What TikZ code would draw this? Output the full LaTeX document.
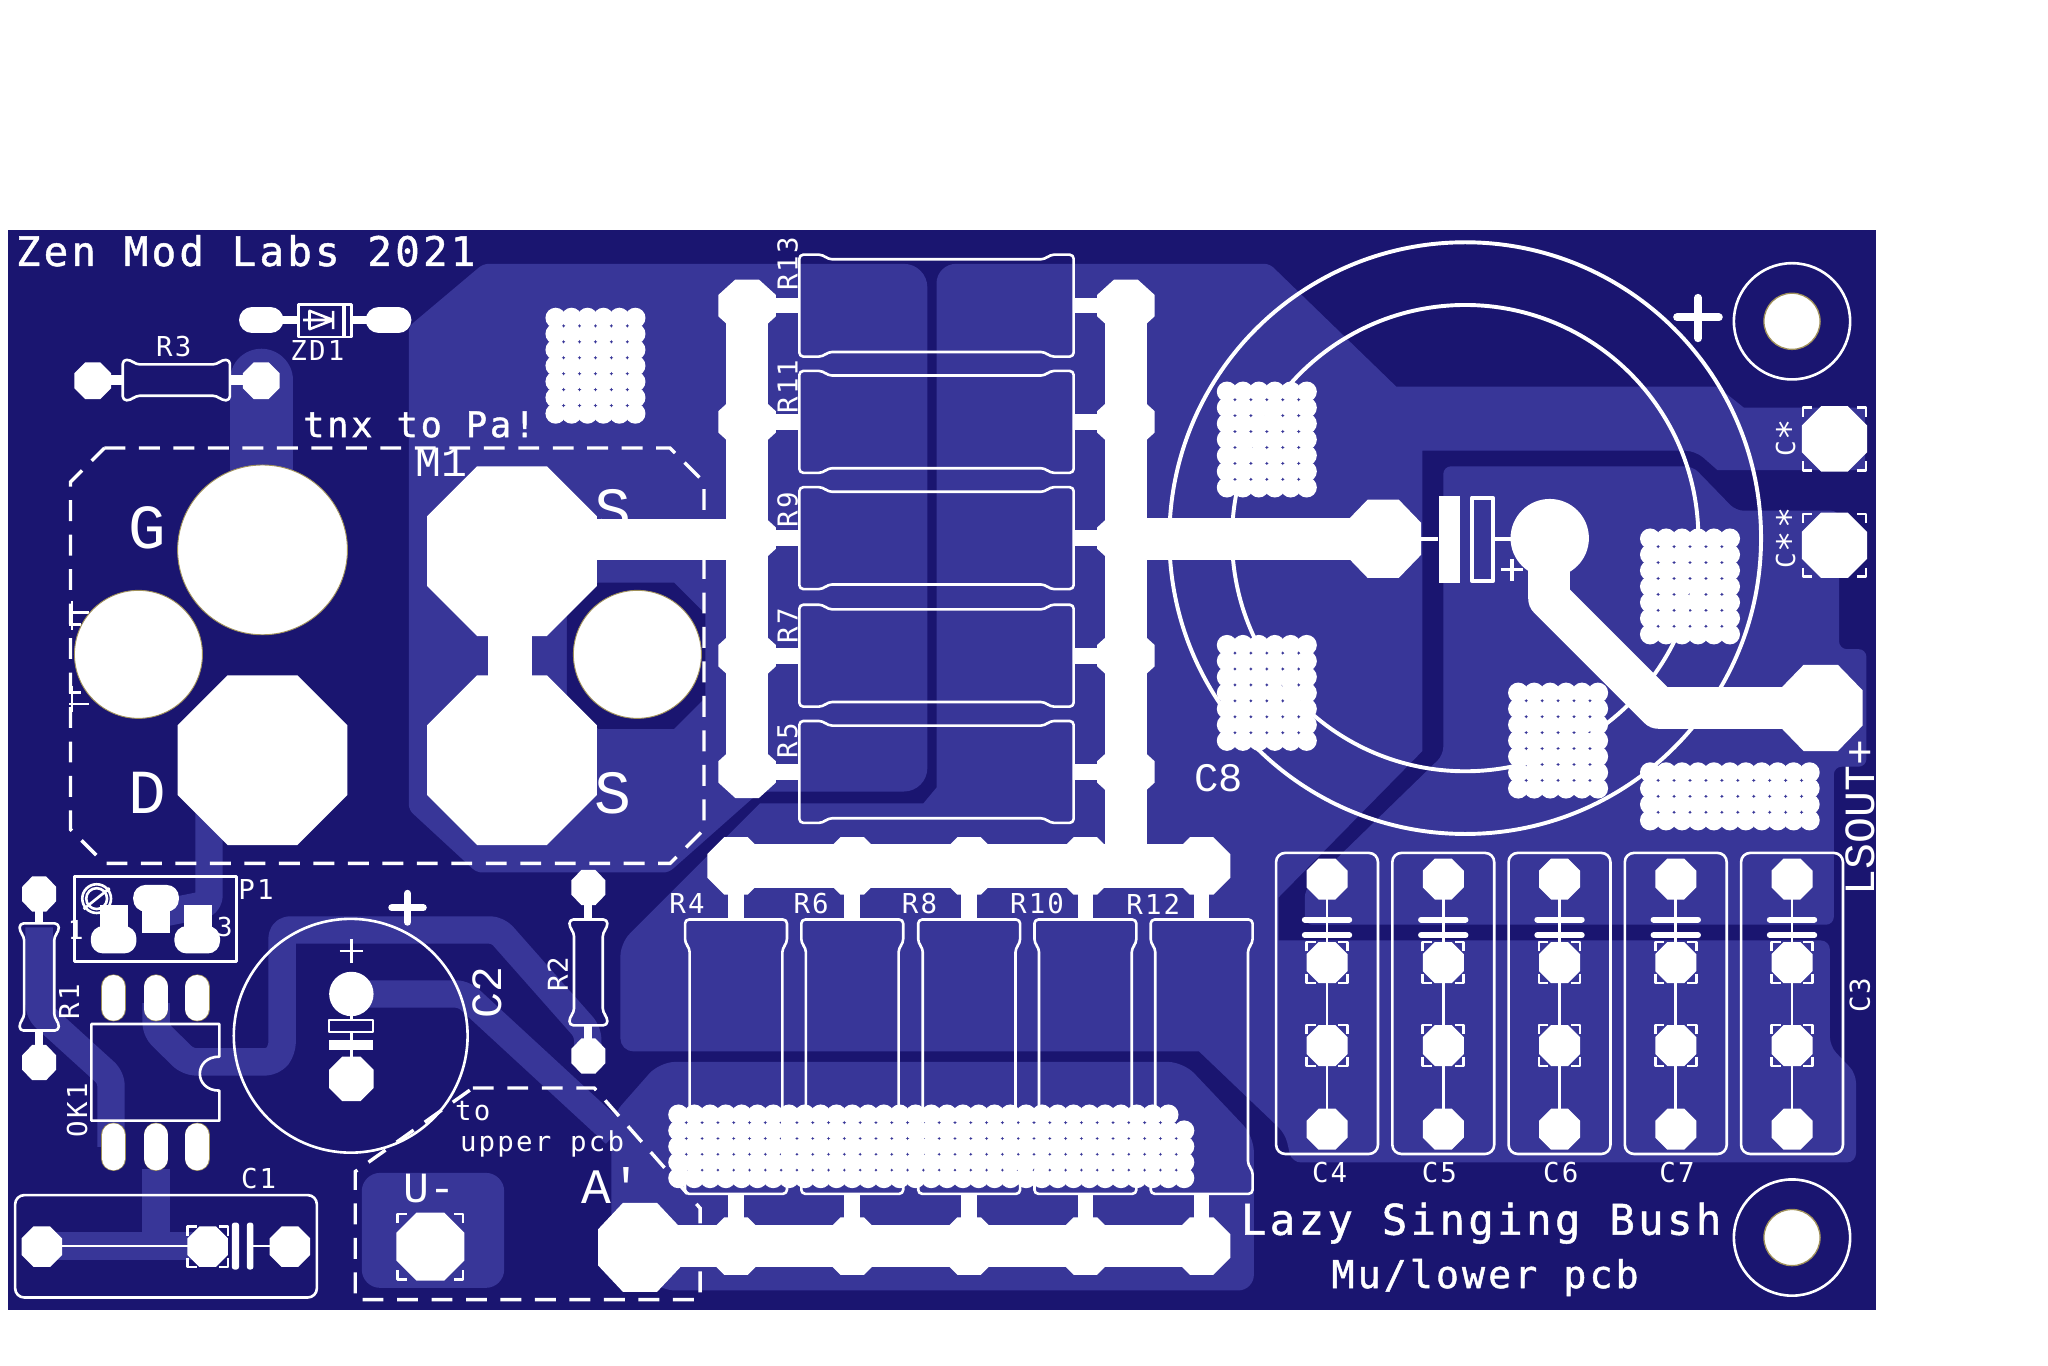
\documentclass[tikz,border=0pt]{standalone}
\usepackage{fontspec}
\newfontfamily\pcbfont[LetterSpace=8]{DejaVu Sans Mono}
\newfontfamily\pcbbold[LetterSpace=8,FakeBold=1.2]{DejaVu Sans Mono}
\newfontfamily\pcbthin{Liberation Mono}
\definecolor{board}{RGB}{26,21,112}
\definecolor{zone}{RGB}{56,54,152}
\definecolor{padrim}{RGB}{160,145,90}
\tikzset{>=stealth}
\tikzset{
  silk/.style={text=white, inner sep=0pt, font=\pcbfont\fontsize{#1}{#1}\selectfont},
  silk/.default=21,
  silkbold/.style={text=white, inner sep=0pt, font=\pcbbold\fontsize{#1}{#1}\selectfont},
  silkthin/.style={text=white, inner sep=0pt, font=\pcbthin\fontsize{#1}{#1}\selectfont},
  silkline/.style={draw=white, line width=2pt, line join=round},
  cut/.style={draw=white, line width=2.6pt, dash pattern=on 16pt off 10.4pt},
  track/.style={draw=zone, line width=21pt, line join=round, rounded corners=6pt},
  wide/.style={draw=white, line width=32pt, line join=round},
  stub/.style={draw=white, line width=12pt},
  lead/.style={draw=white, line width=6pt},
  patch/.style={fill=zone},
  padrimline/.style={draw=padrim, line width=0.7pt}
}
\newcommand{\meshstep}{12.2}
\newcommand{\octpad}[4]{\fill[white] ({#1-#3},{#2-0.41*#4}) -- ({#1-0.41*#3},{#2-#4}) -- ({#1+0.41*#3},{#2-#4}) -- ({#1+#3},{#2-0.41*#4}) -- ({#1+#3},{#2+0.41*#4}) -- ({#1+0.41*#3},{#2+#4}) -- ({#1-0.41*#3},{#2+#4}) -- ({#1-#3},{#2+0.41*#4}) -- cycle;}
\newcommand{\meshpad}[4]{\foreach \i in {1,...,#3} \foreach \j in {1,...,#4} \fill[white] ({#1+7.4+(\i-1)*\meshstep},{#2+7.4+(\j-1)*\meshstep}) circle (7.8pt);}
\newcommand{\ovalpin}[3]{\draw[padrim, line width=19pt, line cap=round] (#1,{#2+9}) -- (#1,{#3-9}); \draw[white, line width=18pt, line cap=round] (#1,{#2+9}) -- (#1,{#3-9});}
\newcommand{\padmark}[3]{
  \draw[silkline] ({#1-#3},{#2-#3+7}) -- ({#1-#3},{#2-#3}) -- ({#1-#3+7},{#2-#3});
  \draw[silkline] ({#1+#3},{#2-#3+7}) -- ({#1+#3},{#2-#3}) -- ({#1+#3-7},{#2-#3});
  \draw[silkline] ({#1-#3},{#2+#3-7}) -- ({#1-#3},{#2+#3}) -- ({#1-#3+7},{#2+#3});
  \draw[silkline] ({#1+#3},{#2+#3-7}) -- ({#1+#3},{#2+#3}) -- ({#1+#3-7},{#2+#3});}
\newcommand{\resv}[5]{\draw[silkline, rounded corners=3pt] ({#1-#4},#2) -- ({#1+#4},#2) -- ({#1+#4},{#2+#5}) -- ({#1+#4-3.5},{#2+#5+4}) -- ({#1+#4-3.5},{#3-#5-4}) -- ({#1+#4},{#3-#5}) -- ({#1+#4},#3) -- ({#1-#4},#3) -- ({#1-#4},{#3-#5}) -- ({#1-#4+3.5},{#3-#5-4}) -- ({#1-#4+3.5},{#2+#5+4}) -- ({#1-#4},{#2+#5}) -- cycle;}
\newcommand{\resh}[5]{\draw[silkline, rounded corners=3pt] (#2,{#1-#4}) -- ({#2+#5},{#1-#4}) -- ({#2+#5+4},{#1-#4+3.5}) -- ({#3-#5-4},{#1-#4+3.5}) -- ({#3-#5},{#1-#4}) -- (#3,{#1-#4}) -- (#3,{#1+#4}) -- ({#3-#5},{#1+#4}) -- ({#3-#5-4},{#1+#4-3.5}) -- ({#2+#5+4},{#1+#4-3.5}) -- ({#2+#5},{#1+#4}) -- (#2,{#1+#4}) -- cycle;}
\begin{document}
\begin{tikzpicture}[x=1pt, y=-1pt]
    \useasboundingbox (0,0) rectangle (1568,1045.8);
    \fill [white] (0,0) rectangle (1568,1045.8);
    \fill [board] (6,176) rectangle (1436,1003);

    \fill [patch] (500,202) [rounded corners=18pt] -- (710,202) -- (710,606) [rounded corners=4pt] -- (582,606) -- (512,668) -- (365,668) -- (313,620) -- (313,250) -- (370,202) -- cycle;
    \fill [patch] (800,202) [rounded corners=4pt] -- (972,202) [sharp corners] -- (1069,296) -- (1315,296) -- (1335,312) -- (1428,312) -- (1428,360) -- (1315,360) [rounded corners=8pt] -- (1298,345) [sharp corners] -- (1089,345) -- (1089,575) -- (979,687) -- (979,720) [rounded corners=7pt] -- (1401,720) -- (1401,801) -- (1421,822) -- (1421,890) -- (989,890) -- (984,868) [sharp corners] -- (918,805) [rounded corners=10pt] -- (475,805) -- (475,722) [sharp corners] -- (582,615) -- (707,615) -- (717,603) [rounded corners=15pt] -- (717,202) -- cycle;
    \fill [patch, rounded corners=6pt] (1105,357) -- (1296,357) -- (1329,391) -- (1408,391) -- (1408,497) -- (1429,497) -- (1429,587) -- (1404,587) -- (1404,708) -- (999,708) -- (999,681) -- (1105,578) -- cycle;
    \fill [patch, rounded corners=12pt] (505,813) -- (906,813) -- (960,870) -- (960,988) -- (505,988) -- (468,950) -- (468,855) -- cycle;
    \fill [patch, rounded corners=14pt] (277,898) rectangle (386,986);
    \fill [board] (434,470) -- (458,446) -- (516,446) -- (540,470) -- (540,534) -- (516,558) -- (458,558) -- (434,534) -- cycle;

    \draw [track, line width=48pt, line cap=round] (200,291) -- (200,420);
    \draw [track] (160,600) -- (160,692) -- (120,700);
    \draw [track] (30,710) -- (30,775) -- (85,825) -- (85,878);
    \draw [track] (119.5,768) -- (119.5,789) -- (144,813) -- (209,813) -- (216,804) -- (216,712) -- (381,712) -- (450,790) -- (450,808);
    \draw [track] (269,761) -- (355,761) -- (471,868);
    \draw [track] (119.5,895) -- (119.5,954);
    \draw [track] (32,954) -- (159,954);

    \node [silkbold=31.2, anchor=west] (title) at (12,192) {Zen Mod Labs 2021};
    \node [silkbold=27] (thanks) at (321,325) {tnx to Pa!};
    \node [silkthin=33] (labM) at (338,354) {M1};
    \node [silkthin=48] (labG) at (113,404) {G};
    \node [silkthin=48] (labD) at (113,607) {D};
    \node [silkthin=47] (labSa) at (469,391) {S};
    \node [silkthin=47] (labSb) at (469,607) {S};
    \node [silk] (labRiii) at (133,265) {R3};
    \node [silk] (labZD) at (243,268) {ZD1};
    \node [silk] (labP) at (196,681) {P1};
    \node [silk, rotate=90] (labRi) at (53,767) {R1};
    \node [silk, rotate=90] (labOK) at (59,850) {OK1};
    \node [silkthin=33, rotate=90] (labCii) at (373,760) {C2};
    \node [silk, rotate=90] (labRii) at (427,746) {R2};
    \node [silk] (labCi) at (198,902) {C1};
    \node [silk=21] (labTo) at (362,851) {to};
    \node [silk=21] (labUp) at (415,876) {upper pcb};
    \node [silkthin=38] (labA) at (468,908) {A'};
    \node [silkthin=33] (labU) at (329,910) {U-};
    \node [silk=20] (labOne) at (58,712) {1};
    \node [silk=20] (labThree) at (172,710) {3};
    \node [silk, rotate=90] (labRxiii) at (603,202) {R13};
    \node [silk, rotate=90] (labRxi) at (603,296) {R11};
    \node [silk, rotate=90] (labRix) at (603,390) {R9};
    \node [silk, rotate=90] (labRvii) at (603,479) {R7};
    \node [silk, rotate=90] (labRv) at (603,567) {R5};
    \node [silk] (labRiv) at (526,692) {R4};
    \node [silk] (labRvi) at (621,692) {R6};
    \node [silk] (labRviii) at (704,692) {R8};
    \node [silk] (labRx) at (794,692) {R10};
    \node [silk] (labRxii) at (883,692) {R12};
    \node [silkthin=31] (labCviii) at (933,596) {C8};
    \node [silk=20, rotate=90] (labCa) at (1367,335) {C{\fontsize{27}{27}\selectfont ∗}};
    \node [silk=20, rotate=90] (labCb) at (1367,412) {C{\fontsize{27}{27}\selectfont ∗∗}};
    \node [silkthin=33, rotate=90] (labLS) at (1424,626) {LSOUT+};
    \node [silk, rotate=90] (labCiii) at (1424,762) {C3};
    \node [silk] (labCiv) at (1018,898) {C4};
    \node [silk] (labCv) at (1102,898) {C5};
    \node [silk] (labCvi) at (1195,898) {C6};
    \node [silk] (labCvii) at (1284,898) {C7};
    \node [silkbold=32.4] (labLazy) at (1134,936.5) {Lazy Singing Bush};
    \node [silkbold=29.3] (labMu) at (1137,978) {Mu/lower pcb};

    \draw [cut] (80,343) -- (513,343) -- (539,369) -- (539,635) -- (513,661) -- (80,661) -- (54,635) -- (54,369) -- cycle;
    \draw [silkline] (53,469) -- (68,469) (53,478) -- (62,478) (53,530) -- (62,530) (53,539) -- (68,539) (55,460) -- (55,482) (55,525) -- (55,545);
    \draw [cut] (362,833) -- (455,833) -- (536,925) -- (536,995) -- (272,995) -- (272,897) -- cycle;

    \fill [white] (201,421) circle (65pt);
    \fill [white] (106,501) circle (49pt);
    \fill [white] (488,501) circle (49pt);
    \draw [padrimline] (201,421) circle (65pt) (106,501) circle (49pt) (488,501) circle (49pt);
    \octpad{201}{582}{65}{65}
    \octpad{392}{422}{65}{65}
    \octpad{392}{582}{65}{65}
    \fill [white] (374,480) rectangle (407,525);
    \fill [white] (440,397) rectangle (572,429);

    \foreach \y in {234,323,412,502,591} {
      \resh{\y}{612}{822}{39}{18}
      \draw [stub] (572,\y) -- (612,\y);
      \draw [stub] (822,\y) -- (862,\y);
      \octpad{572}{\y}{22}{20}
      \octpad{862}{\y}{22}{20}
    }
    \draw [wide] (572,234) -- (572,591);
    \draw [wide] (862,234) -- (862,663);
    \draw [wide, line width=33pt] (563,663) -- (920,663);
    \draw [wide] (490,954) -- (920,954);
    \foreach \x in {563.5,652.5,742,831,920} {
      \resv{\x}{704}{914}{39}{18}
      \draw [stub] (\x,663) -- (\x,704);
      \draw [stub] (\x,914) -- (\x,954);
      \octpad{\x}{663}{22}{22}
      \octpad{\x}{954}{22}{22}
    }
    \octpad{490}{955}{32}{34}
    \begingroup
    \renewcommand{\meshstep}{12.1}
    \meshpad{512}{846}{32}{1}
    \meshpad{512}{858.2}{33}{4}
    \endgroup

    \meshpad{418}{236}{6}{7}
    \meshpad{932}{292.5}{6}{7}
    \meshpad{932}{486.5}{6}{7}
    \meshpad{1256}{405}{6}{7}
    \meshpad{1155}{523}{6}{7}
    \meshpad{1256}{584}{11}{4}

    \draw [silkline, line width=3pt] (1121.8,412) circle (226.5pt);
    \draw [silkline, line width=3pt] (1121.8,412) circle (178.5pt);
    \draw [wide] (862,412.5) -- (1059,412.5);
    \octpad{1059}{412.5}{29}{30}
    \draw [silkline, line width=3pt] (1088,413) -- (1101,413) (1143,413) -- (1160,413);
    \fill [white] (1101.6,380) rectangle (1117.7,446);
    \draw [silkline, line width=3pt] (1127,381) rectangle (1143,445);
    \draw [silkline, line width=2.6pt] (1149,436) -- (1166,436) (1157.5,428) -- (1157.5,445);
    \fill [white] (1186.5,412) circle (30pt);
    \draw [wide] (1186,412) -- (1186,458) -- (1270,542) -- (1394,542);
    \octpad{1394}{542}{32}{33}
    \draw [silkline, line width=6pt, line cap=round] (1284,243) -- (1316,243) (1300,228) -- (1300,259);

    \foreach \y in {246,947.5} {
      \fill [white] (1372,\y) circle (21.5pt);
      \draw [padrimline, line width=1pt] (1372,\y) circle (21.5pt);
      \draw [silkline] (1372,\y) circle (44.5pt);
    }
    \foreach \y in {336,417.5} {
      \octpad{1404.5}{\y}{25}{25}
      \padmark{1404.5}{\y}{24}
    }

    \foreach \x in {1016,1105,1194,1283,1372} {
      \draw [silkline, rounded corners=7pt] ({\x-39},653) rectangle ({\x+39},883.5);
      \draw [silkline] (\x,673) -- (\x,864.5);
      \octpad{\x}{673}{15.7}{15.7}
      \octpad{\x}{737}{15.7}{15.7}
      \octpad{\x}{800.5}{15.7}{15.7}
      \octpad{\x}{864.5}{15.7}{15.7}
      \padmark{\x}{737}{15.7}
      \padmark{\x}{800.5}{15.7}
      \draw [white, line width=4.6pt, line cap=round] ({\x-17},704) -- ({\x+17},704);
      \draw [white, line width=4.6pt, line cap=round] ({\x-17},716) -- ({\x+17},716);
    }

    \resh{291}{94}{176}{15.5}{6}
    \draw [stub, line width=8pt] (71,291) -- (94,291);
    \draw [stub, line width=8pt] (176,291) -- (200,291);
    \octpad{71}{291.5}{14}{14}
    \octpad{200}{291.5}{14}{14}

    \draw [white, line width=20pt, line cap=round] (193,245) -- (207,245);
    \draw [white, line width=20pt, line cap=round] (290,245) -- (305,245);
    \draw [lead] (205,245) -- (228.5,245);
    \draw [lead] (269,245) -- (290,245);
    \draw [silkline] (228.5,233) rectangle (269,258);
    \draw [silkline] (232,245) -- (256,245) (237,238) -- (237,252) -- (255,245) -- cycle (255,238) -- (255,252);
    \draw [white, line width=3pt] (263.5,233) -- (263.5,258);

    \resv{30}{707}{789}{15}{6}
    \draw [lead] (30,685) -- (30,707);
    \draw [lead] (30,789) -- (30,813);
    \octpad{30}{684.5}{13}{13.5}
    \octpad{30}{813.5}{13}{13.5}
    \resv{450.5}{704}{785}{14.5}{6}
    \draw [lead] (450.5,680) -- (450.5,704);
    \draw [lead] (450.5,785) -- (450.5,808);
    \octpad{450.5}{679.5}{13}{13.5}
    \octpad{450.5}{808.5}{13}{13.5}

    \draw [silkline] (57,671) rectangle (181,736);
    \draw [silkline] (74,688) circle (11pt) (74,688) circle (8pt) (64,696) -- (84,680);
    \fill [white] (76.5,693) rectangle (98,715);
    \fill [white] (140.5,693) rectangle (162.5,715);
    \fill [white] (109,688) rectangle (130,714);
    \fill [white, rounded corners=9.5pt] (69.5,709) rectangle (104.5,730);
    \fill [white, rounded corners=9.5pt] (133.5,709) rectangle (168.5,730);
    \fill [white, rounded corners=9.5pt] (102,677.5) rectangle (137,698);

    \foreach \x in {87,119.5,151} {
      \ovalpin{\x}{746.5}{781.5}
      \ovalpin{\x}{860}{896}
    }
    \draw [silkline] (70,784) -- (168,784) -- (168,809) .. controls (148,809) and (148,835) .. (168,835) -- (168,858) -- (70,858) -- cycle;

    \draw [silkline] (268.5,793) circle (89.5pt);
    \draw [silkline] (269,728) ++(-9,0) -- ++(18,0) (269,719) -- (269,737);
    \draw [silkline] (269,761) -- (269,826);
    \fill [white] (269,761) circle (17pt);
    \octpad{269}{826}{17}{17}
    \fill [board] (252,781) rectangle (285.5,790);
    \draw [silkline] (252,781) rectangle (285.5,790);
    \fill [white] (252,796) rectangle (285.5,804);
    \draw [silkline, line width=5.5pt, line cap=round] (300,695) -- (324,695) (312,684) -- (312,706);

    \draw [silkline, rounded corners=7pt] (11.6,915) rectangle (242.6,993.4);
    \draw [silkline] (32,954) -- (159,954);
    \draw [silkline] (194,954) -- (222,954);
    \octpad{32}{954.5}{15.5}{15.5}
    \octpad{159}{954.5}{15.5}{15.5}
    \octpad{222}{954.5}{15.5}{15.5}
    \padmark{159}{954.5}{15.5}
    \fill [white, rounded corners=2pt] (177.5,936) rectangle (183,972);
    \fill [white, rounded corners=2pt] (189,936) rectangle (194,972);
    \octpad{329.5}{954.5}{26}{26}
    \padmark{329.5}{954.5}{25}
\end{tikzpicture}
\end{document}
